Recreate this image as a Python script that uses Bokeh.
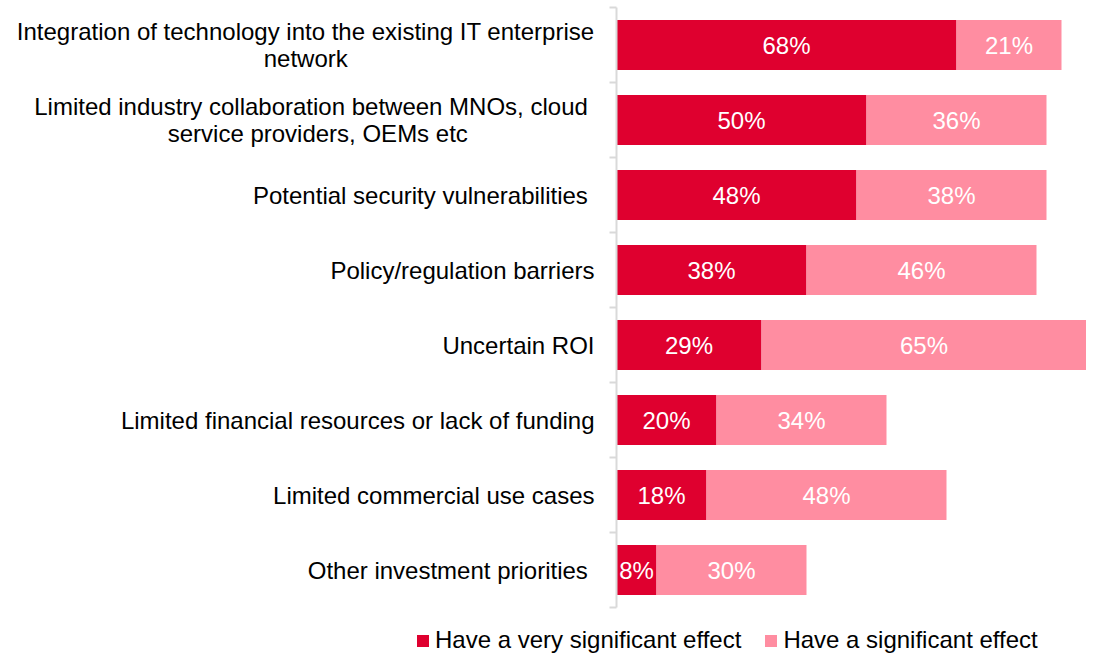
from bokeh.plotting import figure
from bokeh.models import ColumnDataSource, FixedTicker, Range1d, Legend, LegendItem
from bokeh.core.properties import value
from bokeh.embed import file_html
from bokeh.resources import INLINE

categories = [
    "Integration of technology into the existing IT enterprise\nnetwork" + " " * 37,
    "Limited industry collaboration between  MNOs, cloud\nservice providers, OEMs etc" + " " * 19,
    "Potential security vulnerabilities ",
    "Policy/regulation barriers",
    "Uncertain ROI",
    "Limited financial resources or lack of funding",
    "Limited commercial use cases",
    "Other investment priorities ",
]
very_significant = [68, 50, 48, 38, 29, 20, 18, 8]
significant = [21, 36, 38, 46, 65, 34, 48, 30]
series_names = ["Have a very significant effect", "Have a significant effect"]
colors = ["#DF002F", "#FF8DA1"]

FONT = "Liberation Sans"
n = len(categories)
ypos = [i + 0.5 for i in range(n)]

src = ColumnDataSource(dict(
    y=ypos,
    v1=very_significant,
    v2=significant,
    end2=[a + b for a, b in zip(very_significant, significant)],
    zero=[0] * n,
    mid1=[a / 2 for a in very_significant],
    mid2=[a + b / 2 for a, b in zip(very_significant, significant)],
    lab1=[f"{a}%" for a in very_significant],
    lab2=[f"{b}%" for b in significant],
))

p = figure(width=1086, height=612, output_backend="svg", toolbar_location=None,
           x_range=Range1d(0, 94), y_range=Range1d(n, 0),
           min_border_left=616, min_border_right=0, min_border_top=7, min_border_bottom=5)
p.outline_line_color = None
p.grid.visible = False
p.xaxis.visible = False
p.background_fill_color = "white"
p.border_fill_color = "white"

p.hbar(y="y", left="zero", right="v1", height=0.667, source=src,
       fill_color=colors[0], line_color=None)
p.hbar(y="y", left="v1", right="end2", height=0.667, source=src,
       fill_color=colors[1], line_color=None)

for xcol, tcol in (("mid1", "lab1"), ("mid2", "lab2")):
    p.text(x=xcol, y="y", text=tcol, source=src, text_color="white",
           text_align="center", text_baseline="middle", text_font=value(FONT),
           text_font_size="24px")

ax = p.yaxis[0]
ax.ticker = FixedTicker(ticks=ypos, minor_ticks=list(range(n + 1)))
ax.major_label_overrides = {y: c for y, c in zip(ypos, categories)}
ax.major_label_text_font = FONT
ax.major_label_text_font_size = "24px"
ax.major_label_text_color = "#000000"
ax.major_label_text_line_height = 1.0
ax.major_tick_out = 0
ax.major_tick_in = 0
ax.minor_tick_out = 7
ax.minor_tick_in = 0
ax.minor_tick_line_color = "#D9D9D9"
ax.minor_tick_line_width = 2
ax.axis_line_color = "#D9D9D9"
ax.axis_line_width = 2
ax.major_label_standoff = 15

# legend strip below the chart (separate root); its bars are the same data,
# kept out of this strip's visible y-range so only the legend shows
lg = figure(width=1086, height=43, output_backend="svg", toolbar_location=None,
            x_range=Range1d(0, 94), y_range=Range1d(100, 101),
            min_border_left=0, min_border_right=0, min_border_top=0, min_border_bottom=0)
lg.outline_line_color = None
lg.grid.visible = False
lg.axis.visible = False
lg.background_fill_color = "white"
lg.border_fill_color = "white"
k1 = lg.hbar(y="y", left="zero", right="v1", height=0.667, source=src,
             fill_color=colors[0], line_color=None)
k2 = lg.hbar(y="y", left="v1", right="end2", height=0.667, source=src,
             fill_color=colors[1], line_color=None)

legend = Legend(items=[LegendItem(label=series_names[0], renderers=[k1]),
                       LegendItem(label=series_names[1], renderers=[k2])],
                orientation="horizontal", location=(415, 1),
                padding=0, margin=0, spacing=22, glyph_width=15, glyph_height=15,
                label_standoff=5, label_text_font=FONT, label_text_font_size="24px",
                label_text_color="#000000",
                label_height=24, border_line_color=None, background_fill_alpha=0)
lg.add_layout(legend, "center")

open("out.html", "w").write(file_html([p, lg], INLINE))
